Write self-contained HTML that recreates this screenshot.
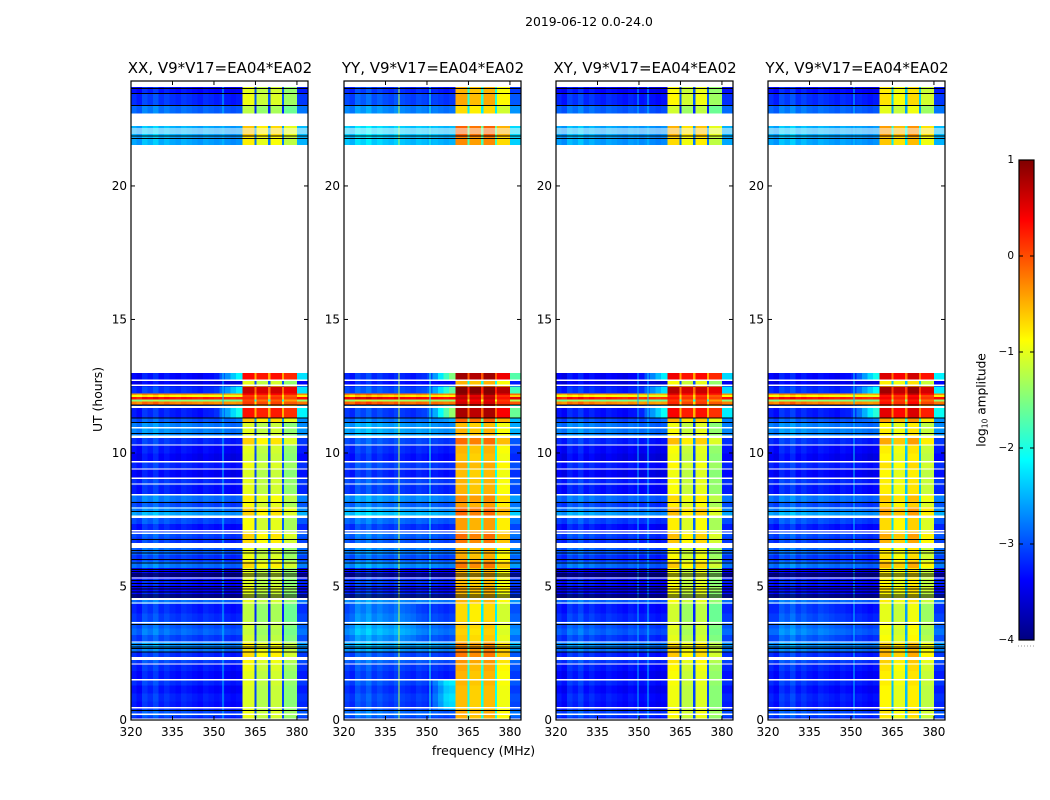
<!DOCTYPE html>
<html>
<head>
<meta charset="utf-8">
<title>2019-06-12 0.0-24.0</title>
<style>
html,body{margin:0;padding:0;background:#fff;}
body{width:1050px;height:800px;overflow:hidden;}
svg{display:block;font-family:"DejaVu Sans","Liberation Sans",sans-serif;}
text{fill:#000;}
</style>
</head>
<body>
<svg id="figure" width="1050" height="800" viewBox="0 0 1050 800">
  <defs><linearGradient id="jetGradient" x1="0" y1="1" x2="0" y2="0"></linearGradient></defs>
  <rect x="0" y="0" width="1050" height="800" fill="#fff"/>
  <text x="589" y="26" font-size="12.4" text-anchor="middle">2019-06-12 0.0-24.0</text>
  <g id="panels"></g>
  <text x="483.5" y="755" font-size="12.5" text-anchor="middle">frequency (MHz)</text>
  <text x="0" y="0" font-size="12.4" text-anchor="middle" transform="translate(102,399.5) rotate(-90)">UT (hours)</text>
  <g id="colorbar"></g>
  <text x="0" y="0" font-size="12.2" text-anchor="middle" transform="translate(985.5,400) rotate(-90)">log<tspan font-size="7.5" dy="2">10</tspan><tspan dy="-2"> amplitude</tspan></text>
</svg>
<script>
/* ---------- chart data ---------- */
const panelTitles = ['XX, V9*V17=EA04*EA02', 'YY, V9*V17=EA04*EA02', 'XY, V9*V17=EA04*EA02', 'YX, V9*V17=EA04*EA02'];
const xTickLabels = [320, 335, 350, 365, 380];
const yTickLabels = [0, 5, 10, 15, 20];
const colorbarTickLabels = [1, 0, -1, -2, -3, -4];

/* frequency column edges in MHz */
const freqEdges = [320,322,324,326,328,330,332,334,336,338,340,342,344,346,348,350,352,354,356,358,360.3,364.6,365.4,369.6,370.4,374.6,375.4,380,384];

/* UT row edges in hours, and log10 amplitude per row (null = no data) */
const rowEdges = [0,0.15,0.4,0.7,1,1.3,1.55,1.85,2.15,2.35,2.55,2.75,2.95,3.2,3.45,3.7,4,4.35,4.55,4.8,5.05,5.3,5.7,5.95,6.2,6.45,6.65,6.85,7.05,7.35,7.6,7.8,8,8.2,8.45,8.8,9.1,9.4,9.7,10,10.3,10.65,10.95,11.15,11.3,11.75,11.82,11.95,12.02,12.12,12.18,12.25,12.5,12.75,13,21.55,21.85,22.25,22.72,23.03,23.48,23.7,24];
const rowLow = [-3.2,-3.05,-3.3,-3.25,-3.35,-3.2,-3.35,-3.25,-3.1,-3.2,-2.85,-2.7,-3.1,-2.9,-3,-3.15,-3.25,-2.9,-3.35,-3.45,-3.3,-3.5,-2.85,-3.15,-2.95,-3.3,-3.15,-3.05,-3.3,-3.05,-2.6,-2.8,-3.05,-2.85,-3.3,-3.2,-3.4,-3.25,-3.45,-3.35,-3.2,-2.75,-2.8,-3,-3.3,-3.1,-0.3,-1.5,0.25,-0.9,-0.4,-3.2,-3.5,-3.4,null,-2.6,-2.55,null,-2.9,-3.2,-3.35,null];
const rowHigh = [-1,-0.95,-1.05,-1.05,-1.05,-1,-1,-0.95,-0.85,-0.7,-0.75,-0.8,-1.1,-1.15,-1.1,-1.2,-1.2,-1,-1.05,-0.95,-1.05,-1,-0.7,-0.95,-1,-1,-0.7,-0.65,-0.9,-0.9,-0.65,-0.6,-0.9,-0.8,-1,-1,-1.05,-0.95,-1.05,-1,-0.65,-1,-1.05,-0.6,0.3,-0.2,0.1,0,0.2,0.1,0.4,0.65,-1,0.35,null,-0.8,-0.6,null,-1.2,-0.95,-1,null];
const rowRamp = [0,0,0,0,0,0,0,0,0,0,0,0,0,0,0,0,0,0,0,0,0,0,0,0,0,0,0,0,0,0,0,0,0,0,0,0,0,0,0,0,0,0,0,0.2,1,0.5,0,0,0,0,0,0.8,0,1,0,0,0,0,0,0,0,0];

/* per-column shape of the low band (320-360 MHz) */
const lowProfile = [0.05,-0.05,0.2,0.1,0.25,0.05,0.15,0.05,0,0.1,0.05,0,-0.05,0.05,0,-0.05,0,-0.05,-0.1,-0.05];
const rampShape = [0,0,0,0,0,0,0,0,0,0,0,0,0,0,0.05,0.15,0.35,0.6,0.85,1];

/* per-panel offsets */
const panelLowOffset = [0, 0.15, -0.05, 0];
const panelRampGain = [1.3, 1.8, 1.3, 1.4];
const bandXX = [0, -2, -0.2, -2, -0.1, -2, -0.4];
const bandYY = [0.5, -1, 0.4, -1, 0.5, -1, 0.1];
const bandXY = [0.1, -2, -0.15, -2, 0, -2, -0.4];
const bandYX = [0.2, -1.4, 0.05, -1.4, 0.25, -1.4, -0.15];
const panelBands = [bandXX, bandYY, bandXY, bandYX];

/* extra regions: panel, UT from, UT to, MHz from, MHz to, added level */
const lowPatches = [[1,0.5,1.45,352,354,0.3],[1,0.5,1.45,354,356,0.6],[1,0.5,1.45,356,360.3,0.9],[1,3,4.35,322,346,0.2],[3,3,4.35,322,346,0.1]];
/* RFI channels: panel, MHz, level */
const rfiChannels = [[1,339.7,-1.2],[1,351,-2],[0,353,-2.4],[2,353,-2.4],[2,349.5,-2.5],[3,351,-2.4]];

/* flagged UT values where a thin line crosses all frequencies: centre, thickness */
const whiteCentres = [22.13,22.06,21.99,12.73,12.53,11.72,10.95,10.6,10.3,9.67,9.4,9.05,8.84,8.43,7.94,7.61,7.09,6.99,6.54,5.32,4.53,4.38,3.64,2.92,2.3,2.1,1.5,0.46,0.22,0.04];
const whiteWidths = [0.04,0.04,0.04,0.06,0.05,0.06,0.06,0.09,0.05,0.05,0.05,0.05,0.05,0.05,0.05,0.08,0.05,0.05,0.18,0.05,0.09,0.05,0.05,0.05,0.11,0.05,0.06,0.05,0.05,0.05];
const blackCentres = [23.67,23.48,23.03,21.88,21.8,11.82,11.32,11.16,10.75,8.16,7.83,6.78,6.37,6.27,6.03,5.9,5.66,5.58,5.49,5.41,5.24,5.13,5.02,4.92,4.81,4.7,4.62,3.6,2.85,2.75,2.7,2.56,0.37];

/* ---------- layout and axis functions ---------- */
const svgNS = 'http://www.w3.org/2000/svg';
const plotLeft = [131, 344, 556, 768];
const plotWidth = 177, plotTop = 81, plotBottom = 720;
const minMHz = 320, maxMHz = 384, minUT = 0, maxUT = 23.93;
const cbLeft = 1019, cbWidth = 15, cbTop = 160, cbBottom = 640;
function xScale(p, mhz) { return plotLeft[p] + (mhz - minMHz) / (maxMHz - minMHz) * plotWidth; }
function yScale(ut) { return plotBottom - (ut - minUT) / (maxUT - minUT) * (plotBottom - plotTop); }
function cbScale(v) { return cbBottom - (v + 4) / 5 * (cbBottom - cbTop); }
function clamp01(x) { return Math.max(0, Math.min(1, x)); }
function jet(v) {
  const t = clamp01((v + 4) / 5);
  const r = clamp01(Math.min(4 * t - 1.5, -4 * t + 4.5));
  const g = clamp01(Math.min(4 * t - 0.5, -4 * t + 3.5));
  const b = clamp01(Math.min(4 * t + 0.5, -4 * t + 2.5));
  return 'rgb(' + Math.round(r * 255) + ',' + Math.round(g * 255) + ',' + Math.round(b * 255) + ')';
}
function make(tag, attrs, parent) {
  const el = document.createElementNS(svgNS, tag);
  for (const k in attrs) el.setAttribute(k, attrs[k]);
  parent.appendChild(el);
  return el;
}
function cellValue(p, r, c) {
  const low = rowLow[r] + panelLowOffset[p];
  if (c < lowProfile.length) {
    let v = low + lowProfile[c] + rowRamp[r] * rampShape[c] * panelRampGain[p];
    const ut = (rowEdges[r] + rowEdges[r + 1]) / 2, mhz = (freqEdges[c] + freqEdges[c + 1]) / 2;
    lowPatches.forEach(function (q) {
      if (q[0] === p && ut >= q[1] && ut <= q[2] && mhz >= q[3] && mhz <= q[4]) v += q[5];
    });
    return v;
  }
  const b = c - lowProfile.length;
  if (b < panelBands[p].length) {
    const off = panelBands[p][b];
    return rowHigh[r] + (rowHigh[r] > 0 && off < 0 ? off * 0.4 : off);
  }
  return low + 0.1 + rowRamp[r] * panelRampGain[p] * 0.8;
}

/* ---------- panels ---------- */
const panelsRoot = document.getElementById('panels');
panelTitles.forEach(function (title, p) {
  const g = make('g', {}, panelsRoot);
  
  

  const cells = make('g', { 'shape-rendering': 'crispEdges' }, g);
  
  
  for (let r = 0; r < rowLow.length; r++) {
    if (rowLow[r] === null) continue;
    const yTop = yScale(rowEdges[r + 1]), yBot = yScale(rowEdges[r]);
    for (let c = 0; c < freqEdges.length - 1; c++) {
      const x0 = xScale(p, freqEdges[c]), x1 = xScale(p, freqEdges[c + 1]);
      const cell = make('rect', { x: x0, y: yTop, width: x1 - x0 + 0.4, height: yBot - yTop + 0.4, fill: jet(cellValue(p, r, c)) }, cells);
      
      
    }
    rfiChannels.forEach(function (q) {
      if (q[0] !== p) return;
      const rfi = make('rect', { x: xScale(p, q[1]), y: yTop, width: 1, height: yBot - yTop + 0.4, fill: jet(q[2]) }, cells);
      
      
    });
  }

  const flags = make('g', { 'shape-rendering': 'crispEdges' }, g);
  
  
  whiteCentres.forEach(function (ut, i) {
    const y0 = yScale(ut + whiteWidths[i] / 2), y1 = yScale(ut - whiteWidths[i] / 2);
    const line = make('rect', { x: plotLeft[p], y: y0, width: plotWidth, height: Math.max(1, y1 - y0), fill: '#fff' }, flags);
    
    
  });
  blackCentres.forEach(function (ut) {
    const line = make('rect', { x: plotLeft[p], y: yScale(ut), width: plotWidth, height: 1, fill: '#000' }, flags);
    
    
  });

  const axes = make('g', {}, g);
  
  
  xTickLabels.forEach(function (t) {
    const x = xScale(p, t);
    const up = make('line', { x1: x, x2: x, y1: plotBottom, y2: plotBottom - 4, stroke: '#000', 'stroke-width': 1 }, axes);
    
    
    const down = make('line', { x1: x, x2: x, y1: plotTop, y2: plotTop + 4, stroke: '#000', 'stroke-width': 1 }, axes);
    
    
    const label = make('text', { x: x, y: 736, 'font-size': 12, 'text-anchor': 'middle' }, axes);
    label.textContent = t;
    
    
  });
  yTickLabels.forEach(function (t) {
    const y = yScale(t);
    const left = make('line', { x1: plotLeft[p], x2: plotLeft[p] + 4, y1: y, y2: y, stroke: '#000', 'stroke-width': 1 }, axes);
    
    
    const right = make('line', { x1: plotLeft[p] + plotWidth, x2: plotLeft[p] + plotWidth - 4, y1: y, y2: y, stroke: '#000', 'stroke-width': 1 }, axes);
    
    
    const label = make('text', { x: plotLeft[p] - 4, y: y + 4, 'font-size': 12, 'text-anchor': 'end' }, axes);
    label.textContent = t;
    
    
  });
  const frame = make('rect', { x: plotLeft[p], y: plotTop, width: plotWidth, height: plotBottom - plotTop, fill: 'none', stroke: '#000', 'stroke-width': 1.2 }, axes);
  
  

  const heading = make('text', { x: plotLeft[p] + plotWidth / 2 + 0.5, y: 73, 'font-size': 15, 'text-anchor': 'middle' }, g);
  heading.textContent = title;
  
  
});

/* ---------- colorbar ---------- */
const cb = document.getElementById('colorbar');
const grad = document.getElementById('jetGradient');
for (let i = 0; i <= 40; i++) {
  make('stop', { offset: (i / 40), 'stop-color': jet(-4 + 5 * i / 40) }, grad);
}
const cbRect = make('rect', { x: cbLeft, y: cbTop, width: cbWidth, height: cbBottom - cbTop, fill: 'url(#jetGradient)' }, cb);


colorbarTickLabels.forEach(function (t) {
  const y = cbScale(t);
  const l = make('line', { x1: cbLeft, x2: cbLeft + 4, y1: y, y2: y, stroke: '#000' }, cb);
  
  
  const r = make('line', { x1: cbLeft + cbWidth, x2: cbLeft + cbWidth - 4, y1: y, y2: y, stroke: '#000' }, cb);
  
  
  const label = make('text', { x: 1014, y: y + 3, 'font-size': 10.5, 'text-anchor': 'end' }, cb);
  label.textContent = String(t).replace('-', '\u2212');
  
  
});
const cbFrame = make('rect', { x: cbLeft, y: cbTop, width: cbWidth, height: cbBottom - cbTop, fill: 'none', stroke: '#000', 'stroke-width': 1.2 }, cb);


const cbMinor = make('line', { x1: 1018, x2: 1034, y1: 646, y2: 646, stroke: '#999', 'stroke-dasharray': '1 2' }, cb);


</script>
</body>
</html>
